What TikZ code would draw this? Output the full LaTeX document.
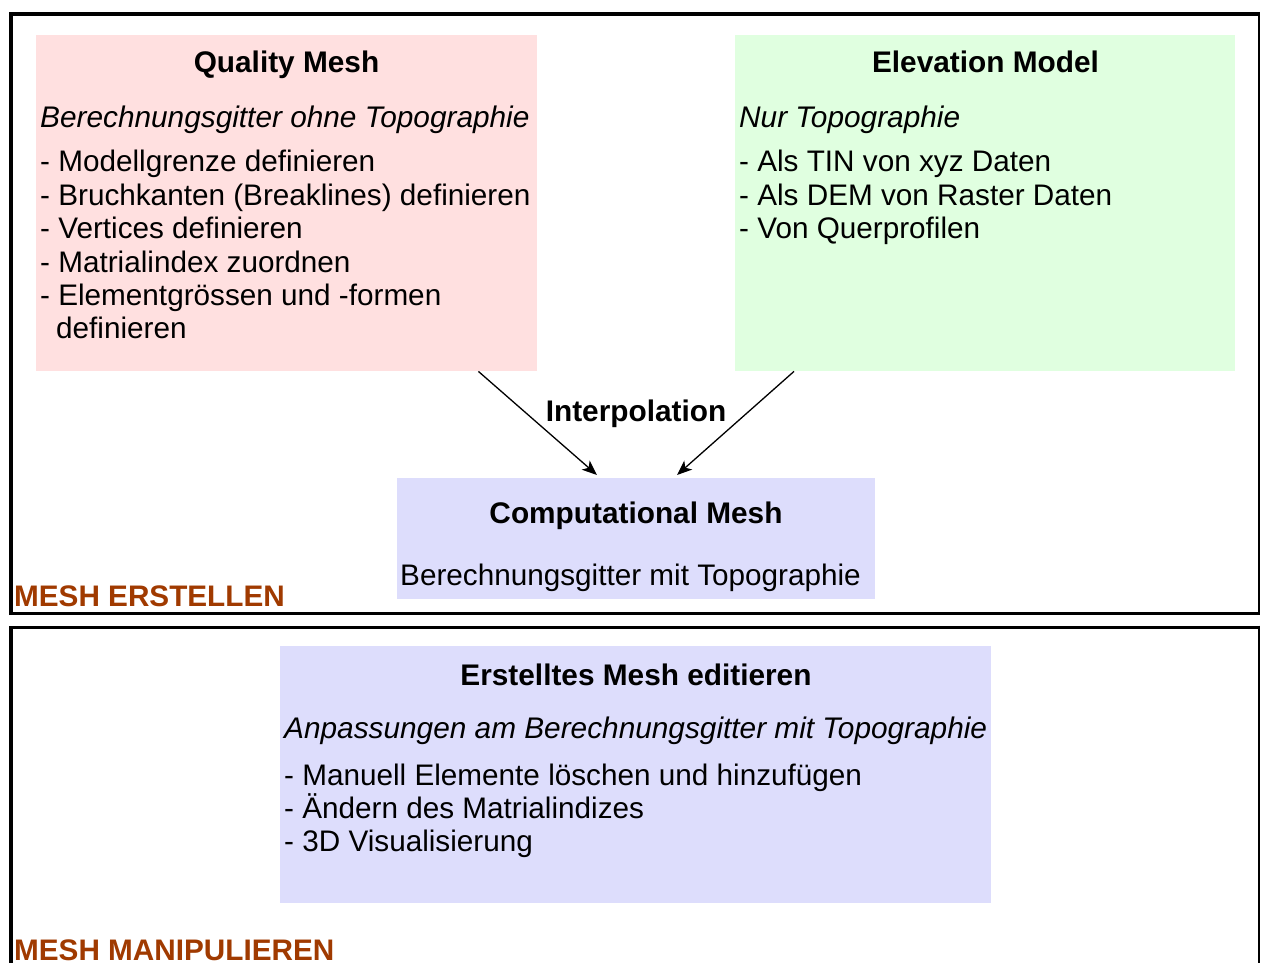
\documentclass[tikz,border=0pt]{standalone}
\usepackage{fontspec}
\setmainfont{Liberation Sans}
\usetikzlibrary{arrows.meta,calc}
\definecolor{qmfill}{RGB}{255,224,224}
\definecolor{emfill}{RGB}{224,255,224}
\definecolor{cmfill}{RGB}{221,221,252}
\definecolor{rust}{RGB}{160,58,0}
\tikzset{
  panel/.style={draw=none,inner sep=0pt,anchor=north west},
  txt/.style={inner sep=0pt,anchor=base west,font=\fontsize{29.7}{33}\selectfont},
  ttl/.style={inner sep=0pt,anchor=base,font=\fontsize{29.8}{33}\selectfont\bfseries},
  itl/.style={txt,font=\fontsize{29.8}{33}\selectfont\itshape},
  sect/.style={inner sep=0pt,anchor=base west,text=rust,font=\fontsize{29.7}{33}\selectfont\bfseries},
  frame/.style={line width=3.5pt},
  thinframe/.style={line width=1.6pt},
  flow/.style={line width=1.3pt,-{Stealth[length=15pt,width=12pt,inset=4pt]}}
}
\begin{document}
\begin{tikzpicture}[x=1pt,y=-1pt]
\useasboundingbox (0,0) rectangle (1262,963);
\fill[white] (0,0) rectangle (1262,963);

% outer frames
\draw[frame] (10.8,615.2) -- (10.8,13.8) -- (1258.5,13.8);
\draw[thinframe] (1259,12) -- (1259,613.5);
\draw[frame] (9,613.5) -- (1259.8,613.5);
\draw[frame] (10.8,970) -- (10.8,625.7) (9,627.4) -- (1258.5,627.4);
\draw[thinframe] (1259,625.7) -- (1259,970);

% coloured boxes
\node[panel,fill=qmfill,minimum width=501pt,minimum height=336pt] (qm) at (36,35) {};
\node[panel,fill=emfill,minimum width=500pt,minimum height=336pt] (em) at (735,35) {};
\node[panel,fill=cmfill,minimum width=478pt,minimum height=121pt] (cm) at (397,478) {};
\node[panel,fill=cmfill,minimum width=711pt,minimum height=257pt] (ed) at (280,646) {};

% Quality Mesh
\node[ttl] (qmt) at (286.5,73) {Quality Mesh};
\node[itl] (qms) at (40,127.5) {Berechnungsgitter ohne Topographie};
\node[txt] (qm1) at (40,172) {- Modellgrenze definieren};
\node[txt] (qm2) at (40,205.3) {- Bruchkanten (Breaklines) definieren};
\node[txt] (qm3) at (40,238.6) {- Vertices definieren};
\node[txt] (qm4) at (40,272) {- Matrialindex zuordnen};
\node[txt] (qm5) at (40,305.3) {- Elementgrössen und -formen};
\node[txt] (qm6) at (56,338.6) {definieren};

% Elevation Model
\node[ttl] (emt) at (985.5,73) {Elevation Model};
\node[itl] (ems) at (739,127.5) {Nur Topographie};
\node[txt] (em1) at (739,172) {- Als TIN von xyz Daten};
\node[txt] (em2) at (739,205.3) {- Als DEM von Raster Daten};
\node[txt] (em3) at (739,238.6) {- Von Querprofilen};

% interpolation arrows
\coordinate (qa) at ($(qm.south east)+(-59,0)$);
\coordinate (ea) at ($(em.south west)+(59,0)$);
\coordinate (ca) at ($(cm.north west)+(200,-3)$);
\coordinate (cb) at ($(cm.north west)+(280,-3)$);
\draw[flow] (qa) -- (ca);
\draw[flow] (ea) -- (cb);
\node[ttl] (ip) at (636,421) {Interpolation};

% Computational Mesh
\node[ttl] (cmt) at (636,523) {Computational Mesh};
\node[txt] (cms) at (400,585) {Berechnungsgitter mit Topographie};

% Erstelltes Mesh editieren
\node[ttl] (edt) at (636,685) {Erstelltes Mesh editieren};
\node[itl] (eds) at (284,738.5) {Anpassungen am Berechnungsgitter mit Topographie};
\node[txt] (ed1) at (284,785) {- Manuell Elemente löschen und hinzufügen};
\node[txt] (ed2) at (284,818) {- Ändern des Matrialindizes};
\node[txt] (ed3) at (284,851) {- 3D Visualisierung};

% section labels
\node[sect] (s1) at (14,606) {MESH ERSTELLEN};
\node[sect] (s2) at (14,960.5) {MESH MANIPULIEREN};
\end{tikzpicture}
\end{document}
